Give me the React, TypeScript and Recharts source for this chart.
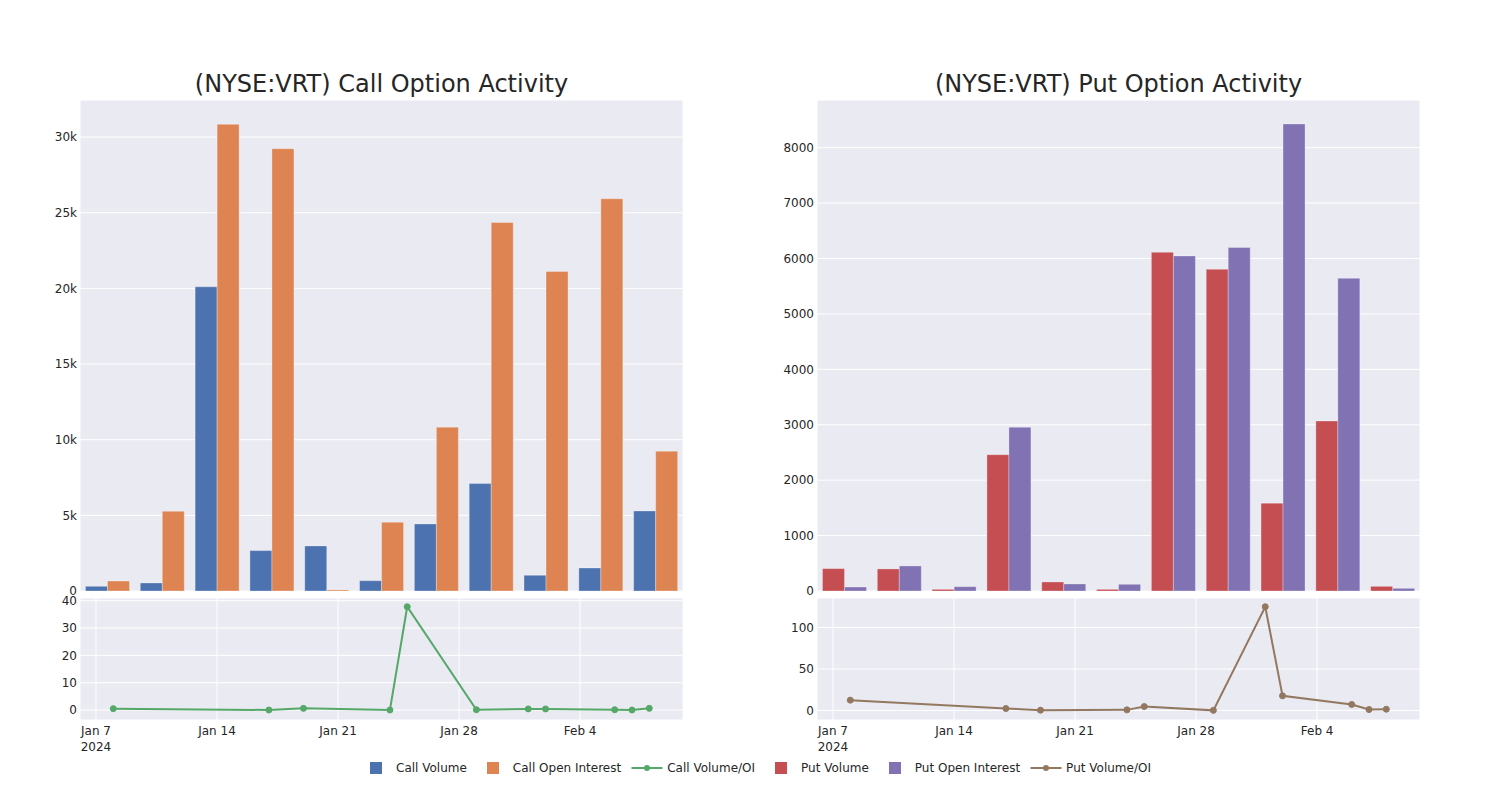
import React from 'react';
import { BarChart, Bar, LineChart, Line, XAxis, YAxis, CartesianGrid } from 'recharts';

// trading days shown in both panels
const dates = ['2024-01-08', '2024-01-17', '2024-01-19', '2024-01-24', '2024-01-25', '2024-01-29', '2024-02-01', '2024-02-02', '2024-02-06', '2024-02-07', '2024-02-08'];

const callVolume = [310, 530, 20100, 2670, 2980, 680, 4430, 7100, 1040, 1520, 5290];
const callOpenInterest = [660, 5270, 30840, 29230, 70, 4540, 10830, 24350, 21110, 25920, 9240];
const callVolumeOI = [0.5, 0.0, 0.6, 0.0, 37.8, 0.1, 0.4, 0.4, 0.1, 0.0, 0.6];

const putVolume = [404, 398, 30, 2459, 163, 30, 6112, 5805, 1585, 3068, 84];
const putOpenInterest = [72, 452, 78, 2954, 127, 121, 6046, 6197, 8427, 5642, 48];
const putVolumeOI = [12.5, 2.4, 0.4, 0.8, 4.8, 0.2, 125, 17.7, 7.3, 1.2, 1.6];

const callBarTicks = [0, 5000, 10000, 15000, 20000, 25000, 30000];
const putBarTicks = [0, 1000, 2000, 3000, 4000, 5000, 6000, 7000, 8000];
const callRatioTicks = [0, 10, 20, 30, 40];
const putRatioTicks = [0, 50, 100];
const dateTicks = ['2024-01-07', '2024-01-14', '2024-01-21', '2024-01-28', '2024-02-04'];
const dateTickLabels = ['Jan 7', 'Jan 14', 'Jan 21', 'Jan 28', 'Feb 4'];

const BLUE = '#4C72B0';
const ORANGE = '#DD8452';
const GREEN = '#55A868';
const RED = '#C44E52';
const PURPLE = '#8172B3';
const BROWN = '#937860';
const BG = '#EAEAF2';
const TEXT = '#262626';
const FONT = '"DejaVu Sans", sans-serif';

const DAY = 86400000;
const origin = Date.parse(dateTicks[0]);
const toDay = (d: string) => (Date.parse(d) - origin) / DAY;

const barData = dates.map((d, i) => ({
  date: d,
  callVolume: callVolume[i],
  callOI: callOpenInterest[i],
  putVolume: putVolume[i],
  putOI: putOpenInterest[i],
}));

const lineData = dates.map((d, i) => ({
  day: toDay(d),
  callRatio: callVolumeOI[i],
  putRatio: putVolumeOI[i],
}));

const dayTicks = dateTicks.map(toDay);

const tickStyle = { fontSize: 12, fill: TEXT, fontFamily: FONT };

const DateTick = (props: any) => {
  const { x, y, payload, index } = props;
  const label = dateTickLabels[dayTicks.indexOf(payload.value)];
  return (
    <text x={x} y={y} textAnchor="middle" fill={TEXT} fontSize={12} fontFamily={FONT}>
      <tspan x={x} dy="1.05em">{label}</tspan>
      {index === 0 && <tspan x={x} dy="1.35em">2024</tspan>}
    </text>
  );
};

const kFormat = (v: number) => (v === 0 ? '0' : `${v / 1000}k`);

interface PanelProps {
  left: number;
  title: string;
  volKey: string;
  oiKey: string;
  volColor: string;
  oiColor: string;
  barTicks: number[];
  barMax: number;
  barFormat?: (v: number) => string;
  ratioKey: string;
  ratioColor: string;
  ratioTicks: number[];
  ratioDomain: [number, number];
}

const Panel: React.FC<PanelProps> = (p) => (
  <>
    <div
      style={{
        position: 'absolute', left: p.left + 80, top: 70, width: 603, textAlign: 'center',
        fontFamily: FONT, fontSize: 24, color: TEXT, lineHeight: '28px',
      }}
    >
      {p.title}
    </div>
    <div style={{ position: 'absolute', left: p.left, top: 90 }}>
      <BarChart
        width={700}
        height={511}
        data={barData}
        margin={{ top: 10, right: 17, bottom: 10, left: 0 }}
        barCategoryGap="10%"
        barGap={0}
      >
        <CartesianGrid fill={BG} stroke="#ffffff" strokeWidth={1} />
        <XAxis dataKey="date" interval={1} tick={false} tickLine={false} axisLine={false} height={0} />
        <YAxis
          width={80}
          domain={[0, p.barMax]}
          ticks={p.barTicks}
          tickFormatter={p.barFormat}
          axisLine={false}
          tickLine={false}
          tickSize={0}
          tickMargin={3}
          tick={tickStyle}
          allowDataOverflow
        />
        <Bar dataKey={p.volKey} fill={p.volColor} stroke="#ffffff" strokeOpacity={0.5} strokeWidth={0.6} isAnimationActive={false} />
        <Bar dataKey={p.oiKey} fill={p.oiColor} stroke="#ffffff" strokeOpacity={0.5} strokeWidth={0.6} isAnimationActive={false} />
      </BarChart>
    </div>
    <div style={{ position: 'absolute', left: p.left, top: 588 }}>
      <LineChart width={700} height={172} data={lineData} margin={{ top: 10, right: 17, bottom: 0, left: 0 }}>
        <CartesianGrid fill={BG} stroke="#ffffff" strokeWidth={1} />
        <XAxis
          dataKey="day"
          type="number"
          domain={[-0.925, 33.95]}
          ticks={dayTicks}
          tick={<DateTick />}
          axisLine={false}
          tickLine={false}
          tickSize={0}
          height={40}
          allowDataOverflow
        />
        <YAxis
          width={80}
          domain={p.ratioDomain}
          ticks={p.ratioTicks}
          axisLine={false}
          tickLine={false}
          tickSize={0}
          tickMargin={3}
          tick={tickStyle}
          allowDataOverflow
        />
        <Line
          dataKey={p.ratioKey}
          stroke={p.ratioColor}
          strokeWidth={2}
          dot={{ r: 3, fill: p.ratioColor, stroke: p.ratioColor, strokeWidth: 1 }}
          isAnimationActive={false}
        />
      </LineChart>
    </div>
  </>
);

const legendItems = [
  { label: 'Call Volume', color: BLUE, kind: 'bar' },
  { label: 'Call Open Interest', color: ORANGE, kind: 'bar' },
  { label: 'Call Volume/OI', color: GREEN, kind: 'line' },
  { label: 'Put Volume', color: RED, kind: 'bar' },
  { label: 'Put Open Interest', color: PURPLE, kind: 'bar' },
  { label: 'Put Volume/OI', color: BROWN, kind: 'line' },
];

const Legend = () => (
  <div
    style={{
      position: 'absolute', left: 358, top: 758, display: 'flex', alignItems: 'center', height: 20,
      fontFamily: FONT, fontSize: 12, color: TEXT, whiteSpace: 'nowrap',
    }}
  >
    {legendItems.map((it) => (
      <div key={it.label} style={{ display: 'flex', alignItems: 'center', marginRight: 8 }}>
        {it.kind === 'bar' ? (
          <svg width={36} height={14}>
            <rect x={12} y={1} width={12} height={12} fill={it.color} />
          </svg>
        ) : (
          <svg width={36} height={14}>
            <line x1={2.5} y1={7} x2={33.5} y2={7} stroke={it.color} strokeWidth={2} />
            <circle cx={18} cy={7} r={3} fill={it.color} />
          </svg>
        )}
        <span style={{ marginLeft: 2 }}>{it.label}</span>
      </div>
    ))}
  </div>
);

export default function App() {
  return (
    <div style={{ position: 'absolute', left: 0, top: 0, width: 1500, height: 800, background: '#ffffff' }}>
      <Panel
        left={0}
        title="(NYSE:VRT) Call Option Activity"
        volKey="callVolume"
        oiKey="callOI"
        volColor={BLUE}
        oiColor={ORANGE}
        barTicks={callBarTicks}
        barMax={32450}
        barFormat={kFormat}
        ratioKey="callRatio"
        ratioColor={GREEN}
        ratioTicks={callRatioTicks}
        ratioDomain={[-3.66, 41]}
      />
      <Panel
        left={737}
        title="(NYSE:VRT) Put Option Activity"
        volKey="putVolume"
        oiKey="putOI"
        volColor={RED}
        oiColor={PURPLE}
        barTicks={putBarTicks}
        barMax={8860}
        ratioKey="putRatio"
        ratioColor={BROWN}
        ratioTicks={putRatioTicks}
        ratioDomain={[-11.4, 135.5]}
      />
      <Legend />
    </div>
  );
}
